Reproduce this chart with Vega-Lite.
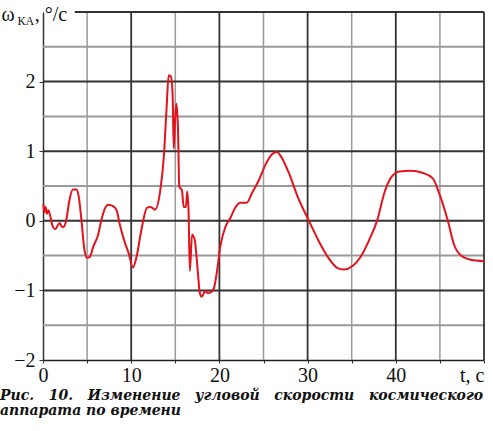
{
  "$schema": "https://vega.github.io/schema/vega-lite/v6.json",
  "width": 441,
  "height": 348,
  "autosize": "none",
  "padding": {"left": 43, "top": 12, "right": 9, "bottom": 71},
  "background": "white",
  "config": {"view": {"stroke": null}, "font": "Liberation Serif"},
  "title": {
    "text": ["Рис.\u00a0\u00a0\u00a010.\u00a0\u00a0\u00a0Изменение\u00a0\u00a0\u00a0угловой\u00a0\u00a0\u00a0скорости\u00a0\u00a0\u00a0космического", "аппарата по времени"],
    "orient": "bottom",
    "anchor": "start",
    "frame": "group",
    "dx": -43,
    "offset": 4,
    "font": "DejaVu Serif",
    "fontStyle": "italic",
    "fontWeight": "bold",
    "fontSize": 14,
    "lineHeight": 15,
    "color": "#111"
  },
  "resolve": {"axis": {"x": "independent", "y": "independent"}},
  "layer": [
    {
      "data": {"values": [{"w": -1.5}, {"w": -0.5}, {"w": 0.5}, {"w": 1.5}, {"w": 2.5}]},
      "mark": {"type": "rule", "color": "#999999", "strokeWidth": 2},
      "encoding": {
        "y": {"field": "w", "type": "quantitative", "scale": {"domain": [-2, 3], "nice": false, "zero": false}, "axis": null}
      }
    },
    {
      "data": {"values": [{"t": 5}, {"t": 15}, {"t": 25}, {"t": 35}, {"t": 45}]},
      "mark": {"type": "rule", "color": "#999999", "strokeWidth": 1.5},
      "encoding": {
        "x": {"field": "t", "type": "quantitative", "scale": {"domain": [0, 50], "nice": false, "zero": false}, "axis": null}
      }
    },
    {
      "data": {"values": [{"w": -1}, {"w": 0}, {"w": 1}, {"w": 2}]},
      "mark": {"type": "rule", "color": "#333333", "strokeWidth": 2},
      "encoding": {
        "y": {"field": "w", "type": "quantitative", "scale": {"domain": [-2, 3], "nice": false, "zero": false}, "axis": null}
      }
    },
    {
      "data": {"values": [{"t": 10}, {"t": 20}, {"t": 30}, {"t": 40}, {"t": 50}]},
      "mark": {"type": "rule", "color": "#333333", "strokeWidth": 1.8},
      "encoding": {
        "x": {"field": "t", "type": "quantitative", "scale": {"domain": [0, 50], "nice": false, "zero": false}, "axis": null}
      }
    },
    {
      "data": {"values": [{"t": 3.6, "t2": 50, "w": 3}]},
      "mark": {"type": "rule", "color": "#333333", "strokeWidth": 2},
      "encoding": {
        "x": {"field": "t", "type": "quantitative", "scale": {"domain": [0, 50], "nice": false, "zero": false}, "axis": null},
        "x2": {"field": "t2"},
        "y": {"field": "w", "type": "quantitative", "scale": {"domain": [-2, 3], "nice": false, "zero": false}, "axis": null}
      }
    },
    {
      "data": {
        "values": [
          {"t": 0.05, "w": 0.24}, {"t": 0.15, "w": 0.12}, {"t": 0.3, "w": 0.2}, {"t": 0.45, "w": 0.1},
          {"t": 0.6, "w": 0.15}, {"t": 0.8, "w": 0.08}, {"t": 1.1, "w": -0.08}, {"t": 1.4, "w": -0.12},
          {"t": 1.7, "w": -0.06}, {"t": 1.9, "w": -0.03}, {"t": 2.15, "w": -0.09}, {"t": 2.4, "w": -0.08},
          {"t": 2.65, "w": 0.02}, {"t": 3.0, "w": 0.3}, {"t": 3.4, "w": 0.45}, {"t": 3.8, "w": 0.45},
          {"t": 4.05, "w": 0.35}, {"t": 4.35, "w": 0.02}, {"t": 4.7, "w": -0.42}, {"t": 5.0, "w": -0.53},
          {"t": 5.3, "w": -0.52}, {"t": 5.7, "w": -0.37}, {"t": 6.25, "w": -0.2}, {"t": 6.6, "w": 0.0},
          {"t": 7.0, "w": 0.17}, {"t": 7.4, "w": 0.23}, {"t": 7.95, "w": 0.21}, {"t": 8.35, "w": 0.15},
          {"t": 8.7, "w": -0.05}, {"t": 9.3, "w": -0.32}, {"t": 9.7, "w": -0.46}, {"t": 10.2, "w": -0.67},
          {"t": 10.6, "w": -0.52}, {"t": 11.2, "w": -0.1}, {"t": 11.8, "w": 0.19}, {"t": 12.2, "w": 0.2},
          {"t": 12.7, "w": 0.16}, {"t": 13.3, "w": 0.44}, {"t": 13.7, "w": 0.92}, {"t": 14.0, "w": 1.59},
          {"t": 14.25, "w": 2.09}, {"t": 14.5, "w": 2.07}, {"t": 14.7, "w": 1.8}, {"t": 14.82, "w": 1.04},
          {"t": 15.0, "w": 1.5}, {"t": 15.12, "w": 1.68}, {"t": 15.3, "w": 1.35}, {"t": 15.45, "w": 0.49},
          {"t": 15.75, "w": 0.44}, {"t": 15.95, "w": 0.2}, {"t": 16.2, "w": 0.2}, {"t": 16.35, "w": 0.42},
          {"t": 16.5, "w": 0.15}, {"t": 16.65, "w": -0.72}, {"t": 16.9, "w": -0.2}, {"t": 17.2, "w": -0.27},
          {"t": 17.5, "w": -0.65}, {"t": 17.8, "w": -1.05}, {"t": 18.0, "w": -1.09}, {"t": 18.4, "w": -1.01},
          {"t": 18.7, "w": -1.04}, {"t": 19.0, "w": -1.03}, {"t": 19.35, "w": -0.98}, {"t": 19.7, "w": -0.75},
          {"t": 20.1, "w": -0.37}, {"t": 20.7, "w": -0.08}, {"t": 21.25, "w": 0.04}, {"t": 21.8, "w": 0.19},
          {"t": 22.4, "w": 0.26}, {"t": 23.1, "w": 0.26}, {"t": 23.7, "w": 0.4}, {"t": 24.5, "w": 0.59},
          {"t": 25.2, "w": 0.8}, {"t": 26.0, "w": 0.96}, {"t": 26.5, "w": 0.99}, {"t": 27.1, "w": 0.9},
          {"t": 27.9, "w": 0.68}, {"t": 28.8, "w": 0.37}, {"t": 30.15, "w": 0.0}, {"t": 31.3, "w": -0.3},
          {"t": 32.4, "w": -0.54}, {"t": 33.4, "w": -0.68}, {"t": 34.1, "w": -0.7}, {"t": 35.1, "w": -0.65},
          {"t": 36.0, "w": -0.52}, {"t": 37.0, "w": -0.27}, {"t": 37.9, "w": 0.01}, {"t": 38.7, "w": 0.4},
          {"t": 39.4, "w": 0.61}, {"t": 40.4, "w": 0.71}, {"t": 41.7, "w": 0.72}, {"t": 43.0, "w": 0.69},
          {"t": 44.2, "w": 0.61}, {"t": 44.9, "w": 0.4}, {"t": 45.9, "w": 0.0}, {"t": 46.6, "w": -0.34},
          {"t": 47.4, "w": -0.5}, {"t": 48.5, "w": -0.56}, {"t": 50.0, "w": -0.58}
        ]
      },
      "mark": {"type": "line", "color": "#e3121c", "strokeWidth": 2, "interpolate": "monotone"},
      "encoding": {
        "x": {
          "field": "t",
          "type": "quantitative",
          "scale": {"domain": [0, 50], "nice": false, "zero": false},
          "axis": {
            "orient": "bottom",
            "values": [0, 5, 10, 15, 20, 25, 30, 35, 40, 45, 50],
            "format": "d",
            "labelExpr": "datum.value % 10 == 0 ? (datum.value == 50 ? 't, с' : datum.label) : ''",
            "labelAlign": {"condition": {"test": "datum.value == 50", "value": "right"}, "value": "center"},
            "labelFlush": false,
            "labelOverlap": false,
            "labelFont": "Liberation Serif",
            "labelFontSize": 20,
            "labelColor": "#111",
            "labelPadding": 2,
            "tickSize": 3,
            "tickColor": "#333",
            "domainColor": "#222",
            "domainWidth": 1.5,
            "grid": false,
            "title": "КА",
            "titleX": -26,
            "titleY": -336,
            "titleAlign": "left",
            "titleBaseline": "alphabetic",
            "titleFont": "Liberation Serif",
            "titleFontSize": 12,
            "titleFontWeight": "normal",
            "titleColor": "#111"
          }
        },
        "y": {
          "field": "w",
          "type": "quantitative",
          "scale": {"domain": [-2, 3], "nice": false, "zero": false},
          "axis": {
            "orient": "left",
            "values": [-2, -1.5, -1, -0.5, 0, 0.5, 1, 1.5, 2, 2.5],
            "format": "d",
            "labelExpr": "datum.value % 1 == 0 ? datum.label : ''",
            "labelOverlap": false,
            "labelFont": "Liberation Serif",
            "labelFontSize": 20,
            "labelColor": "#111",
            "labelPadding": 4,
            "tickSize": 4,
            "tickColor": "#333",
            "domain": true,
            "domainColor": "#333",
            "domainWidth": 1.5,
            "grid": false,
            "title": "ω\u00a0\u00a0\u00a0\u00a0, °/с",
            "titleAngle": 0,
            "titleX": -42,
            "titleY": 8,
            "titleAlign": "left",
            "titleBaseline": "alphabetic",
            "titleFont": "Liberation Serif",
            "titleFontSize": 20,
            "titleFontWeight": "normal",
            "titleColor": "#111"
          }
        }
      }
    }
  ]
}
